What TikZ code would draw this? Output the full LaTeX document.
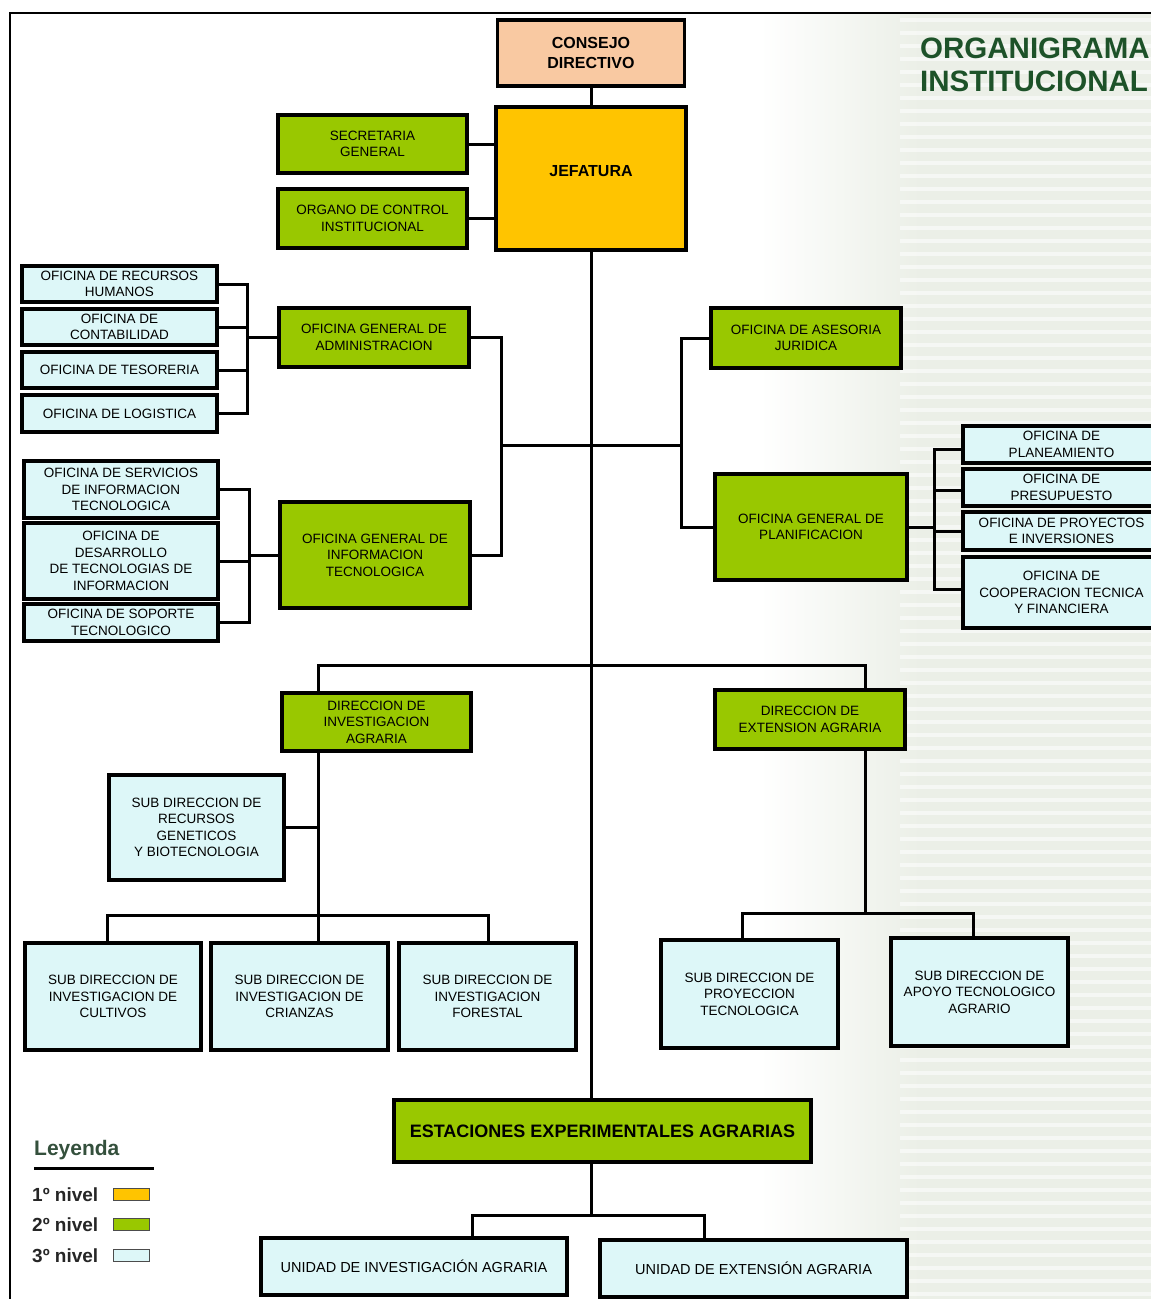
\documentclass[tikz,border=0pt]{standalone}
\usepackage{fontspec}
\setmainfont{Liberation Sans}
\usetikzlibrary{calc}

\definecolor{lvlone}{HTML}{FFC400}
\definecolor{lvltwo}{HTML}{99C800}
\definecolor{lvlthree}{HTML}{DDF7F8}
\definecolor{peach}{HTML}{F9C9A2}
\definecolor{titlegreen}{HTML}{1D5229}
\definecolor{legendgreen}{HTML}{34503C}
\definecolor{bggreen}{HTML}{EBEFE7}

\tikzset{
  box/.style={draw=black, line width=3.2pt, align=center, inner sep=1pt, outer sep=0pt,
              font=\fontsize{13.5}{16.5}\selectfont},
  lone/.style={box, fill=lvlone, font=\bfseries\fontsize{16}{20}\selectfont},
  ltwo/.style={box, fill=lvltwo},
  lthree/.style={box, fill=lvlthree},
  top/.style={box, fill=peach, font=\bfseries\fontsize{16}{20}\selectfont},
  link/.style={line width=3pt, line cap=rect},
  swatch/.style={draw=black!70, line width=1.6pt, minimum width=36, minimum height=12, inner sep=0pt},
  legtext/.style={anchor=west, inner sep=0pt, font=\bfseries\fontsize{19}{22}\selectfont, text=black!85},
}

\begin{document}
\begin{tikzpicture}[x=1pt, y=-1pt]
\useasboundingbox (0,0) rectangle (1151,1299);
\clip (0,0) rectangle (1151,1299);

% page background with the striped band on the right
\fill[white] (0,0) rectangle (1151,1299);
\shade[left color=white, right color=bggreen] (760,13) rectangle (920,1299);
\fill[bggreen] (920,13) rectangle (1151,1299);
\foreach \yy in {20,33,...,1299}
  \draw[white, line width=4pt, opacity=.55] (900,\yy) -- (1151,\yy);

% frame
\draw[line width=2.8pt] (10,1299) -- (10,13) -- (1151,13);

% title
\node[anchor=north west, align=left, inner sep=0pt, text=titlegreen,
      font=\bfseries\fontsize{29.5}{33}\selectfont] (title) at (920,38)
      {ORGANIGRAMA\\INSTITUCIONAL};

% top of the hierarchy
\node[top, minimum width=187, minimum height=66] (cons) at (591,53) {CONSEJO\\DIRECTIVO};
\node[lone, minimum width=190, minimum height=143] (jef) at (591,178.5) {\raisebox{2pt}[0pt][0pt]{JEFATURA}};
\node[ltwo, minimum width=189, minimum height=58] (sec) at (372.5,144) {SECRETARIA\\GENERAL};
\node[ltwo, minimum width=189, minimum height=59] (org) at (372.5,218.5) {ORGANO DE CONTROL\\INSTITUCIONAL};

% general offices
\node[ltwo, minimum width=190, minimum height=59] (adm) at (374,337.5) {OFICINA GENERAL DE\\ADMINISTRACION};
\node[ltwo, minimum width=190, minimum height=106] (inf) at (375,555) {OFICINA GENERAL DE\\INFORMACION\\TECNOLOGICA};
\node[ltwo, minimum width=190, minimum height=60] (ase) at (806,338) {OFICINA DE ASESORIA\\JURIDICA};
\node[ltwo, minimum width=192, minimum height=106] (pla) at (811,527) {OFICINA GENERAL DE\\PLANIFICACION};

% administration offices
\node[lthree, minimum width=195, minimum height=36] (rrhh) at (119.5,284) {OFICINA DE RECURSOS\\HUMANOS};
\node[lthree, minimum width=195, minimum height=36] (cont) at (119.5,327) {OFICINA DE\\CONTABILIDAD};
\node[lthree, minimum width=195, minimum height=36] (teso) at (119.5,370) {OFICINA DE TESORERIA};
\node[lthree, minimum width=195, minimum height=37] (logi) at (119.5,413.5) {OFICINA DE LOGISTICA};

% information technology offices
\node[lthree, minimum width=194, minimum height=57] (serv) at (121,489.5) {OFICINA DE SERVICIOS\\DE INFORMACION\\TECNOLOGICA};
\node[lthree, minimum width=194, minimum height=76] (desa) at (121,561) {OFICINA DE\\DESARROLLO\\DE TECNOLOGIAS DE\\INFORMACION};
\node[lthree, minimum width=194, minimum height=37] (sopo) at (121,622.5) {OFICINA DE SOPORTE\\TECNOLOGICO};

% planning offices
\node[lthree, minimum width=197, minimum height=37] (plnm) at (1061.5,444.5) {OFICINA DE\\PLANEAMIENTO};
\node[lthree, minimum width=197, minimum height=37] (pres) at (1061.5,487.5) {OFICINA DE\\PRESUPUESTO};
\node[lthree, minimum width=197, minimum height=38] (proy) at (1061.5,531) {OFICINA DE PROYECTOS\\E INVERSIONES};
\node[lthree, minimum width=197, minimum height=71] (coop) at (1061.5,592.5) {OFICINA DE\\COOPERACION TECNICA\\Y FINANCIERA};

% directorates
\node[ltwo, minimum width=189, minimum height=58] (dia) at (376.5,722) {DIRECCION DE\\INVESTIGACION\\AGRARIA};
\node[ltwo, minimum width=190, minimum height=59] (dea) at (810,719.5) {DIRECCION DE\\EXTENSION AGRARIA};

% research sub-directorates
\node[lthree, minimum width=175, minimum height=105] (gen) at (196.5,827.5) {SUB DIRECCION DE\\RECURSOS\\GENETICOS\\Y BIOTECNOLOGIA};
\node[lthree, minimum width=176, minimum height=107] (cul) at (113,996.5) {SUB DIRECCION DE\\INVESTIGACION DE\\CULTIVOS};
\node[lthree, minimum width=177, minimum height=107] (cri) at (299.5,996.5) {SUB DIRECCION DE\\INVESTIGACION DE\\CRIANZAS};
\node[lthree, minimum width=177, minimum height=107] (for) at (487.5,996.5) {SUB DIRECCION DE\\INVESTIGACION\\FORESTAL};

% extension sub-directorates
\node[lthree, minimum width=177, minimum height=108] (pyt) at (749.5,994) {SUB DIRECCION DE\\PROYECCION\\TECNOLOGICA};
\node[lthree, minimum width=177, minimum height=108] (apo) at (979.5,992) {SUB DIRECCION DE\\APOYO TECNOLOGICO\\AGRARIO};

% experimental stations and their units
\node[ltwo, minimum width=417, minimum height=62, font=\bfseries\fontsize{18}{21}\selectfont] (est) at (602.5,1131) {ESTACIONES EXPERIMENTALES AGRARIAS};
\node[lthree, minimum width=306, minimum height=57, font=\fontsize{14.5}{17}\selectfont] (uinv) at (414,1266.5) {UNIDAD DE INVESTIGACIÓN AGRARIA};
\node[lthree, minimum width=307, minimum height=57, font=\fontsize{14.5}{17}\selectfont] (uext) at (753.5,1268.5) {UNIDAD DE EXTENSIÓN AGRARIA};

% reference points for the connector lines
\coordinate (trunk) at (591,0);
\coordinate (bl) at (501,445);
\coordinate (br) at (681,445);
\coordinate (ba) at (247,0);
\coordinate (bi) at (249,0);
\coordinate (bp) at (934,0);
\coordinate (hbar) at (591,665);
\coordinate (xdia) at (318,0);
\coordinate (xdea) at (865,0);
\coordinate (rbar) at (318,915);
\coordinate (ebar) at (865,913);
\coordinate (ubar) at (591,1215);
\coordinate (xcul) at (107,0);
\coordinate (xfor) at (488,0);
\coordinate (xpyt) at (742,0);
\coordinate (xapo) at (973,0);
\coordinate (xuinv) at (472,0);
\coordinate (xuext) at (704,0);

% main line
\draw[link] (cons.south) -- (jef.north);
\draw[link] (jef.south) -- (est.north -| trunk);
\draw[link] (sec.east) -- (sec.east -| jef.west);
\draw[link] (org.east) -- (org.east -| jef.west);

% general offices
\draw[link] (adm.east) -| (bl) |- (inf.east);
\draw[link] (bl) -- (bl -| trunk);
\draw[link] (ase.west) -| (br) |- (pla.west);
\draw[link] (br) -- (br -| trunk);

% administration bracket
\draw[link] (rrhh.east) -- (rrhh.east -| ba);
\draw[link] (cont.east) -- (cont.east -| ba);
\draw[link] (teso.east) -- (teso.east -| ba);
\draw[link] (logi.east) -- (logi.east -| ba);
\draw[link] (rrhh.east -| ba) -- (logi.east -| ba);
\draw[link] (adm.west) -- (adm.west -| ba);

% information technology bracket
\draw[link] (serv.east) -- (serv.east -| bi);
\draw[link] (desa.east) -- (desa.east -| bi);
\draw[link] (sopo.east) -- (sopo.east -| bi);
\draw[link] (serv.east -| bi) -- (sopo.east -| bi);
\draw[link] (inf.west) -- (inf.west -| bi);

% planning bracket
\draw[link] (pla.east) -- (pla.east -| bp);
\draw[link] ($(plnm.west)+(0,5)$) -- ($(plnm.west -| bp)+(0,5)$);
\draw[link] ($(pres.west)+(0,3)$) -- ($(pres.west -| bp)+(0,3)$);
\draw[link] (proy.west) -- (proy.west -| bp);
\draw[link] ($(coop.west)+(0,-3)$) -- ($(coop.west -| bp)+(0,-3)$);
\draw[link] ($(plnm.west -| bp)+(0,5)$) -- ($(coop.west -| bp)+(0,-3)$);

% directorates
\draw[link] (dia.north -| xdia) |- (hbar) -| (dea.north -| xdea);

% research branch
\draw[link] (dia.south -| xdia) -- (cri.north -| xdia);
\draw[link] (gen.east) -- (gen.east -| xdia);
\draw[link] (cul.north -| xcul) |- (rbar) -| (for.north -| xfor);

% extension branch
\draw[link] (dea.south -| xdea) -- (ebar);
\draw[link] (pyt.north -| xpyt) |- (ebar) -| (apo.north -| xapo);

% stations
\draw[link] (est.south -| trunk) -- (ubar);
\draw[link] (uinv.north -| xuinv) |- (ubar) -| (uext.north -| xuext);

% legend
\node[anchor=west, inner sep=0pt, text=legendgreen, font=\bfseries\fontsize{21}{24}\selectfont] (ley) at (34,1150) {Leyenda};
\draw[line width=3pt] (34,1168) -- (154,1168);
\node[legtext] (n1) at (32,1195) {1º nivel};
\node[legtext] (n2) at (32,1225) {2º nivel};
\node[legtext] (n3) at (32,1256) {3º nivel};
\node[swatch, fill=lvlone] (s1) at (131.5,1194.5) {};
\node[swatch, fill=lvltwo] (s2) at (131.5,1224.5) {};
\node[swatch, fill=lvlthree] (s3) at (131.5,1255.5) {};
\end{tikzpicture}
\end{document}
